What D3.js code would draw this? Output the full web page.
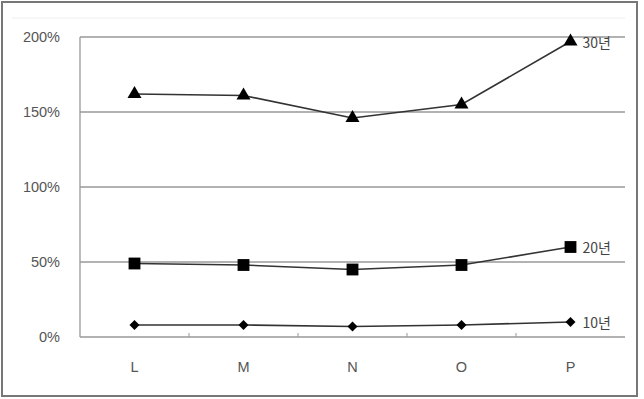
<!DOCTYPE html>
<html><head><meta charset="utf-8">
<script src="https://cdn.jsdelivr.net/npm/d3@7"></script>
<style>body{margin:0;background:#fff}</style>
</head><body>
<script>
const categories = ["L","M","N","O","P"];
const seriesNames = ["10년","20년","30년"];
const values10 = [8, 8, 7, 8, 10];
const values20 = [49, 48, 45, 48, 60];
const values30 = [162, 161, 146, 155, 197];
const yTicks = [0, 50, 100, 150, 200];

(function(){
const W = 644, H = 399;
const svg = d3.select("body").append("svg").attr("width", W).attr("height", H);
svg.append("rect").attr("x",2).attr("y",2).attr("width",635).attr("height",394)
  .attr("fill","#fff").attr("stroke","#777").attr("stroke-width",2);
svg.append("line").attr("x1",12).attr("x2",625).attr("y1",18).attr("y2",18).attr("stroke","#eee");

const mLeft = 80, mRight = 625, mTop = 37, mBottom = 337;
const x = d3.scaleBand().domain(categories).range([mLeft, mRight]);
const y = d3.scaleLinear().domain([0, 200]).range([mBottom, mTop]);

svg.append("g").selectAll("line").data(yTicks).join("line")
  .attr("x1", mLeft).attr("x2", mRight).attr("y1", d=>y(d)).attr("y2", d=>y(d))
  .attr("stroke", "#999").attr("stroke-width", 1.3);
svg.append("line").attr("x1",mLeft).attr("x2",mLeft).attr("y1",mTop).attr("y2",mBottom)
  .attr("stroke","#999").attr("stroke-width",1.3);

const font = "Liberation Sans, Arial, sans-serif";
const yAxis = d3.axisLeft(y).tickValues(yTicks).tickFormat(d=>d+"%").tickSize(0).tickPadding(20);
const gy = svg.append("g").attr("transform",`translate(${mLeft},0)`).call(yAxis);
gy.select(".domain").remove();
gy.selectAll("text").attr("font-family",font).attr("font-size",14.5).attr("fill","#555");

const xAxis = d3.axisBottom(x).tickSize(0).tickPadding(25);
const gx = svg.append("g").attr("transform",`translate(0,${mBottom})`).call(xAxis);
gx.select(".domain").remove();
gx.selectAll("text").attr("font-family",font).attr("font-size",14.5).attr("fill","#555");
svg.append("g").selectAll("line").data(categories.slice(1)).join("line")
  .attr("x1", d=>x(d)).attr("x2", d=>x(d)).attr("y1", mBottom).attr("y2", mBottom-4)
  .attr("stroke","#999");

const cx = d => x(d) + x.bandwidth()/2;
const line = d3.line().x((d,i)=>cx(categories[i])).y(d=>y(d));
const all = [values10, values20, values30];
all.forEach(vals => {
  svg.append("path").datum(vals).attr("d", line).attr("fill","none")
    .attr("stroke","#333").attr("stroke-width",1.6);
});
const sym = [d3.symbolSquare, d3.symbolSquare, d3.symbolTriangle];
const sizes = [50, 140, 85];
const rot = [45, 0, 0];
all.forEach((vals, k) => {
  svg.append("g").selectAll("path").data(vals).join("path")
    .attr("transform",(d,i)=>`translate(${cx(categories[i])},${y(d)}) rotate(${rot[k]})`)
    .attr("d", d3.symbol().type(sym[k]).size(sizes[k]))
    .attr("fill","#000");
});
all.forEach((vals, k) => {
  svg.append("text").attr("x", cx(categories[4]) + 12).attr("y", y(vals[4]) + 6)
    .text(seriesNames[k]).attr("font-family","Noto Sans CJK KR, sans-serif")
    .attr("font-size",14).attr("fill","#444");
});
})();
</script>
</body></html>
